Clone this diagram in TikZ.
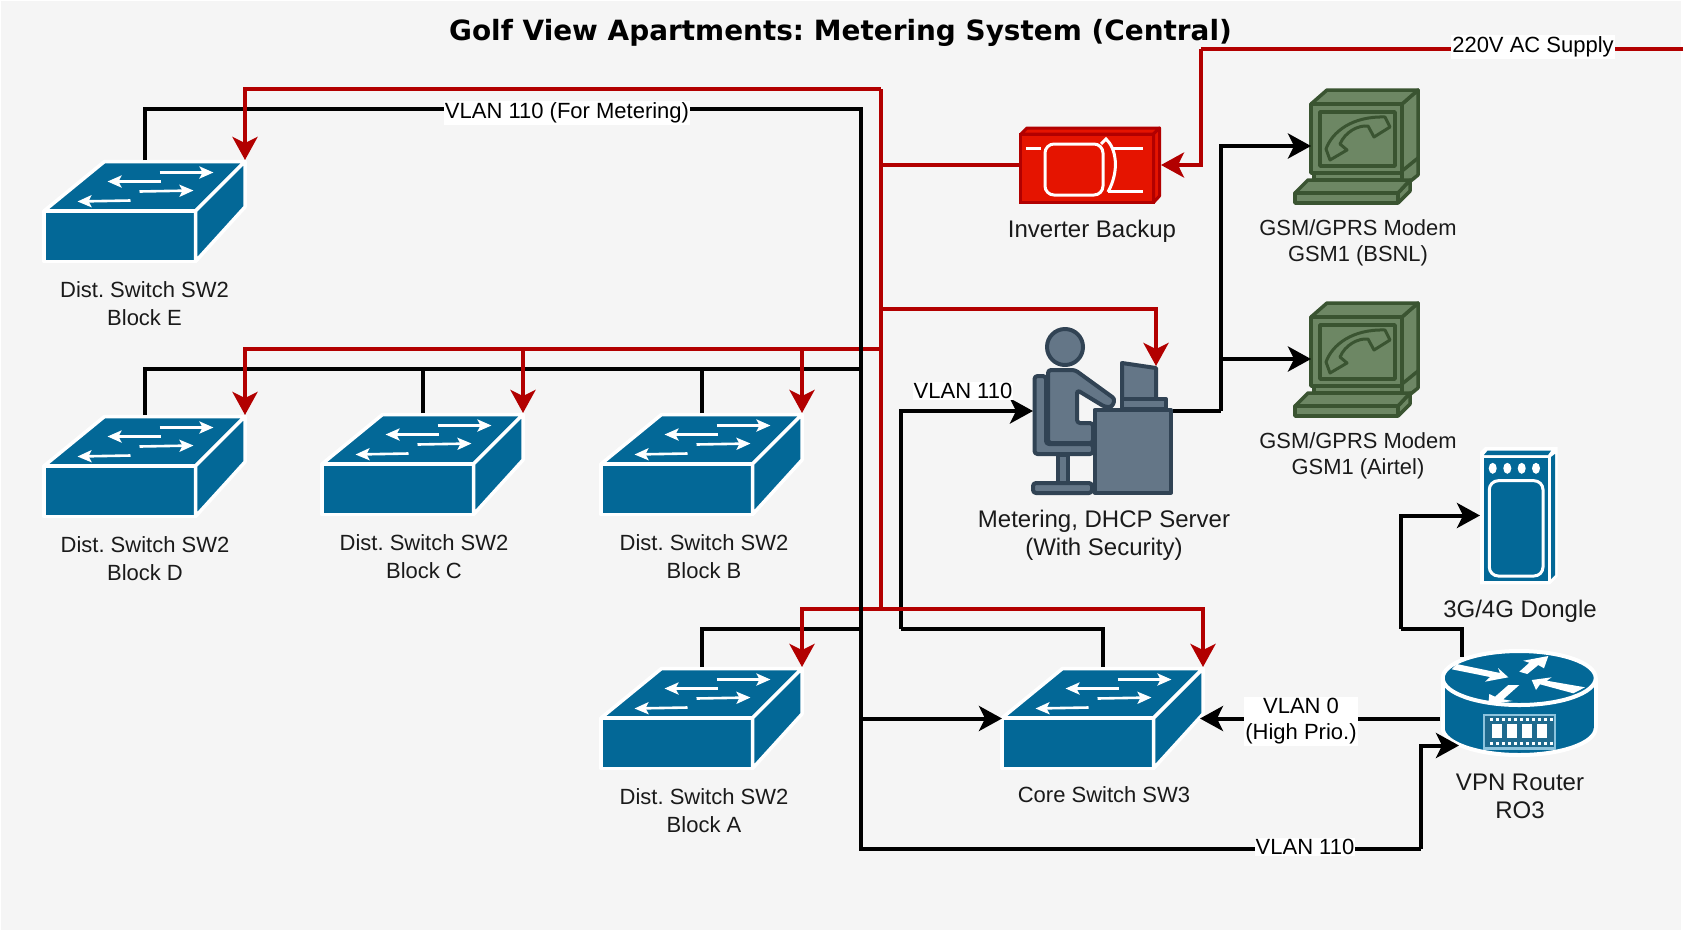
\documentclass[tikz,border=0pt]{standalone}
\usepackage{fontspec}
\setmainfont{Liberation Sans}
\newfontfamily\titlefont{DejaVu Sans}
\usetikzlibrary{arrows.meta}
\frenchspacing

\definecolor{swblue}{HTML}{036897}
\definecolor{redline}{HTML}{B20000}
\definecolor{redfill}{HTML}{E51400}
\definecolor{gsmfill}{HTML}{6D8764}
\definecolor{gsmline}{HTML}{3A5431}
\definecolor{srvfill}{HTML}{647687}
\definecolor{srvline}{HTML}{314354}
\definecolor{chipline}{HTML}{8CC3DD}
\definecolor{chipfill}{HTML}{1F6A8E}
\definecolor{txt}{HTML}{1A1A1A}

\tikzset{
	iconbox/.style={inner sep=0pt,outer sep=0pt},
	blk/.style={line width=4pt,black},
	redl/.style={line width=4pt,redline},
	tip/.style={-{Stealth[length=23pt,width=25pt,inset=6pt]}},
	lbl/.style={text=txt,align=center,font=\fontsize{22}{28}\selectfont},
	lblbig/.style={text=txt,align=center,font=\fontsize{24}{28}\selectfont},
	lbltight/.style={text=txt,align=center,font=\fontsize{21.9}{26}\selectfont},
	linklbl/.style={text=black,align=center,font=\fontsize{22}{26}\selectfont,fill=white,inner xsep=1pt,inner ysep=1.5pt},
	swface/.style={fill=swblue,draw=white,line width=3.5pt,line join=round},
	gsmface/.style={fill=gsmfill,draw=gsmline,line width=3.5pt,line join=round},
	srvface/.style={fill=srvfill,draw=srvline,line width=4pt,line join=round},
	netswitch/.pic={
		\node[iconbox,minimum width=201pt,minimum height=103pt] (-box) {};
		\path[swface] (-40,-50) -- (100.5,-50) -- (51,-0.5) -- (-100.5,-0.5) -- cycle;
		\path[swface] (-100.5,-0.5) rectangle (51,50);
		\path[swface] (51,-0.5) -- (100.5,-50) -- (100.5,-4.5) -- (51,50) -- cycle;
		\foreach \xa/\ya/\xb/\yb in {15/-39/69/-39,16/-30/-37/-30,-5/-20/49/-21,-14/-11/-67/-10}
			\draw[white,line width=2.6pt,-{Stealth[length=14pt,width=12pt,inset=3pt]}] (\xa,\ya) -- (\xb,\yb);
	},
	modem/.pic={
		\node[iconbox,minimum width=125pt,minimum height=116pt] (-box) {};
		\begin{scope}[shift={(-65.5,-76)}]
			\path[gsmface] (112,34) -- (128,20) -- (128,105) -- (112,118) -- cycle;
			\draw[gsmline,line width=3.5pt] (112,101) -- (128,88);
			\path[gsmface] (21,34) -- (37,20) -- (128,20) -- (112,34) -- cycle;
			\path[gsmface] (24,103) rectangle (112,110);
			\path[gsmface] (21,34) rectangle (112,103);
			\path[gsmface] (30,42) rectangle (105,96);
			\path[gsmface,line width=3pt] (36,79) .. controls (42,62) and (62,46) .. (95,47) -- (100,57) -- (84,67)
				-- (78,56) .. controls (68,55) and (55,62) .. (50,74) -- (57,80) -- (40,90) -- cycle;
			\path[gsmface] (108,123) -- (120,110) -- (120,121) -- (108,133) -- cycle;
			\path[gsmface] (5,123) -- (18,110) -- (120,110) -- (108,123) -- cycle;
			\path[gsmface] (5,123) rectangle (108,133);
		\end{scope}
	},
	inverter/.pic={
		\node[iconbox,minimum width=142pt,minimum height=78pt] (-box) {};
		\begin{scope}[shift={(-1090,-165)}]
			\path[fill=redfill,draw=redline,line width=3pt,line join=round] (1021,134) -- (1027,128) -- (1159.5,128) -- (1153.5,134) -- cycle;
			\path[fill=redfill,draw=redline,line width=3pt,line join=round] (1153.5,134) -- (1159.5,128) -- (1159.5,196) -- (1153.5,202.5) -- cycle;
			\path[fill=redfill,draw=redline,line width=3pt] (1020.5,134) rectangle (1153.5,202.5);
			\draw[white,line width=3pt] (1026,148) -- (1041,148);
			\draw[white,line width=3pt,rounded corners=9pt] (1045,144) rectangle (1103,195);
			\draw[white,line width=3pt] (1101,144) -- (1106,139) .. controls (1116,148) and (1120,170) .. (1108,192);
			\draw[white,line width=3pt] (1112,148) -- (1143,148);
			\draw[white,line width=3pt] (1108,191) -- (1143,191);
		\end{scope}
	},
	server/.pic={
		\node[iconbox,minimum width=140pt,minimum height=168pt] (-box) {};
		\coordinate (-lan) at (53,-45);
		\begin{scope}[shift={(-83,-91)}]
			\path[srvface] (45,27) circle[radius=18pt];
			\path[srvface,rounded corners=3pt] (73,134) -- (14.5,134) -- (14.5,56) -- (26,56) -- (26,124) -- (73,124) -- cycle;
			\path[srvface] (37.5,135) rectangle (48,163);
			\path[srvface,rounded corners=3pt] (13,163) rectangle (72,173);
			\path[srvface,rounded corners=3pt] (28,123) -- (28,50) -- (55,50) -- (95,79) -- (92,87) -- (85,87)
				-- (57,70) -- (57,103) -- (73,103) -- (73,123) -- cycle;
			\path[srvface] (102,43) -- (136,48) -- (136,79) -- (102,79) -- cycle;
			\path[srvface] (102,79) rectangle (146,89);
			\path[srvface] (74.5,90) rectangle (151,172.5);
		\end{scope}
	},
	dongle/.pic={
		\node[iconbox,minimum width=78pt,minimum height=137pt] (-box) {};
		\begin{scope}[shift={(-79,-75.5)}]
			\fill[white] (40,12) -- (45,7) -- (117.7,7) -- (117.7,136.7) -- (110,144.3) -- (40,144.3) -- cycle;
			\fill[swblue] (44,18.3) rectangle (108.3,141);
			\fill[swblue] (44,15) -- (47.5,10.7) -- (111,10.7) -- (108,15) -- cycle;
			\fill[swblue] (111,17) -- (115,14) -- (115,135) -- (111,139) -- cycle;
			\foreach \cx in {52.7,67.3,81.7,96}
				\fill[white] (\cx,28.3) ellipse[x radius=4pt,y radius=5.5pt];
			\draw[white,line width=3pt,rounded corners=9pt] (49.3,40.7) rectangle (103,136);
		\end{scope}
	},
	router/.pic={
		\node[iconbox,minimum width=158pt,minimum height=109pt] (-box) {};
		\coordinate (-wan) at (-60,44);
		\coordinate (-up) at (-57.3,-45);
		\begin{scope}[shift={(-79,-261.5)}]
			\path[fill=swblue,draw=white,line width=4pt] (79.2,288) ellipse[x radius=76.5pt,y radius=27pt];
			\fill[swblue] (2.7,238) rectangle (155.7,288);
			\draw[white,line width=4pt] (2.7,238) -- (2.7,288) (155.7,238) -- (155.7,288);
			\path[fill=swblue,draw=white,line width=4pt] (79.2,238) ellipse[x radius=76.5pt,y radius=27pt];
			\fill[white] (16.7,224) -- (60,233) -- (58,228) -- (68.3,237.3) -- (45,241.7) -- (50,237) -- (11.7,229.3) -- cycle;
			\fill[white] (108.3,216) -- (83.3,220.7) -- (89.3,222.7) -- (79.3,231.7) -- (87.3,234) -- (98.3,225) -- (104,228.3) -- cycle;
			\fill[white] (91.7,240) -- (111.7,237.3) -- (106.7,240.7) -- (145,247.3) -- (133.3,253.3) -- (100,244.3) -- (96,250) -- cycle;
			\fill[white] (48.3,264.3) -- (49.3,254) -- (55,256.7) -- (68.3,245) -- (79.3,245) -- (63.3,259.3) -- (72.7,261) -- cycle;
			\path[fill=chipfill,draw=chipline,line width=2.5pt] (44,275) rectangle (115,308.5);
			\foreach \cx in {52,66.7,82.3,97.3}
				\fill[white] (\cx,284) rectangle ++(10,14);
			\foreach \cx in {50,56,...,110} {
				\fill[white] (\cx,277.5) rectangle ++(3,3);
				\fill[white] (\cx,301.5) rectangle ++(3,3);
			}
		\end{scope}
	},
}

\begin{document}
\begin{tikzpicture}[x=1pt,y=-1pt]

	\useasboundingbox (0,0) rectangle (1702,930);
	\fill[black!4] (1,1) rectangle (1680.5,930);

	\node[font=\titlefont\bfseries\fontsize{27.9}{34}\selectfont] (title) at (840.5,33) {Golf View Apartments: Metering System (Central)};

	% icons
	\pic (swE) at (144.5,211.5) {netswitch};
	\pic (swD) at (144.5,466.5) {netswitch};
	\pic (swC) at (422.5,464.5) {netswitch};
	\pic (swB) at (701.5,464.5) {netswitch};
	\pic (swA) at (701.5,718.5) {netswitch};
	\pic (swCore) at (1102.5,718.5) {netswitch};
	\pic (inv) at (1090,165) {inverter};
	\pic (srv) at (1103,411) {server};
	\pic (gsmA) at (1355.5,146) {modem};
	\pic (gsmB) at (1355.5,359) {modem};
	\pic (dgl) at (1519,515.5) {dongle};
	\pic (rtr) at (1519,701.5) {router};

	\coordinate (blkTop) at (861,109);
	\coordinate (blkMid) at (861,369);
	\coordinate (blkLow) at (861,629);
	\coordinate (blkCorner) at (1421,849);
	\coordinate (busCore) at (901,629);
	\coordinate (busGsm) at (1221,411);
	\coordinate (busDgl) at (1401,629);
	\coordinate (redTop) at (881,89);
	\coordinate (redMid) at (881,349);
	\coordinate (redLow) at (881,609);
	\coordinate (redSrv) at (1156,309);
	\coordinate (acEnd) at (1683,49);
	\coordinate (acCorner) at (1201,49);

	% black links
	\draw[blk] (swE-box.north) |- (blkTop);
	\draw[blk,tip] (blkCorner) |- (rtr-wan);
	\draw[blk] (swD-box.north) |- (blkMid);
	\draw[blk] (swC-box.north) -- (swC-box.north |- blkMid);
	\draw[blk] (swB-box.north) -- (swB-box.north |- blkMid);
	\draw[blk] (swA-box.north) |- (blkLow);
	\draw[blk,tip] (blkTop |- swCore-box.west) -- (swCore-box.west);
	\draw[blk] (swCore-box.north) |- (busCore);
	\draw[blk,tip] (busCore) |- (srv-box.west);
	\draw[blk] (srv-box.east) -- (busGsm);
	\draw[blk,tip] (busGsm) |- ([xshift=18pt]gsmA-box.west);
	\draw[blk,tip] (busGsm |- gsmB-box.west) -- ([xshift=18pt]gsmB-box.west);
	\draw[blk,tip] (rtr-box.west |- swCore-box.east) -- ([xshift=-3pt]swCore-box.east);
	\draw[blk] (rtr-up) |- (busDgl);
	\draw[blk,tip] (busDgl) |- (dgl-box.west);

	% red links
	\draw[redl,tip] (redLow) -| (swCore-box.north east);
	\draw[redl] (redTop) -- (redLow);
	\draw[redl,tip] (redTop) -| (swE-box.north east);
	\draw[redl,tip] (redMid) -| (swD-box.north east);
	\draw[redl,tip] (swC-box.north east |- redMid) -- (swC-box.north east);
	\draw[redl,tip] (swB-box.north east |- redMid) -- (swB-box.north east);
	\draw[redl,tip] (redLow) -| (swA-box.north east);
	\draw[redl] (redTop |- inv-box.west) -- (inv-box.west);
	\draw[redl,tip] (redTop |- redSrv) -| (srv-lan);
	\draw[redl] (acEnd) -- (acCorner);
	\draw[redl,tip] (acCorner) |- (inv-box.east);

	% trunk goes over the red lines
	\draw[blk] ([yshift=2pt]blkTop) |- (blkCorner);

	% link labels
	\node[linklbl] (lblMain) at (567,113) {VLAN 110 (For Metering)};
	\node[linklbl] (lblAc) at (1533,47) {220V AC Supply};
	\node[linklbl] (lblSrv) at (963,391) {VLAN 110};
	\node[linklbl] (lblRtr) at (1305,847) {VLAN 110};
	\node[linklbl] (lblPrio) at (1301,721.5) {VLAN 0\\(High Prio.)};

	% icon labels
	\node[lbl] (txtE) at (144.5,304) {Dist. Switch SW2\\Block E};
	\node[lbl] (txtD) at (145,559) {Dist. Switch SW2\\Block D};
	\node[lbl] (txtC) at (424,557) {Dist. Switch SW2\\Block C};
	\node[lbl] (txtB) at (704,557) {Dist. Switch SW2\\Block B};
	\node[lbl] (txtA) at (704,811) {Dist. Switch SW2\\Block A};
	\node[lbl] (txtCore) at (1104,795) {Core Switch SW3};
	\node[lblbig] (txtInv) at (1092,231) {Inverter Backup};
	\node[lbltight] (txtGsmA) at (1358,243) {GSM/GPRS Modem\\GSM1 (BSNL)};
	\node[lbltight] (txtGsmB) at (1358,456) {GSM/GPRS Modem\\GSM1 (Airtel)};
	\node[lblbig] (txtSrv) at (1104,535) {Metering, DHCP Server\\(With Security)};
	\node[lblbig] (txtDgl) at (1520,611) {3G/4G Dongle};
	\node[lblbig] (txtRtr) at (1520,796) {VPN Router\\RO3};

\end{tikzpicture}
\end{document}
